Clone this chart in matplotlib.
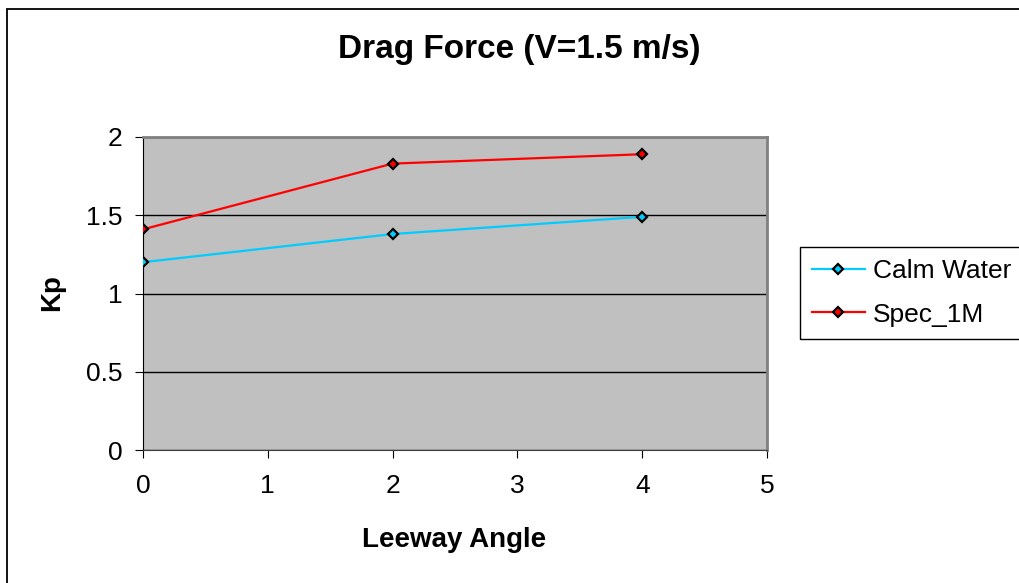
import matplotlib.pyplot as plt
import matplotlib.patches as patches

# dane
leeway = [0, 2, 4]
calm_water = [1.20, 1.38, 1.49]
spec_1m = [1.41, 1.83, 1.89]

plt.rcParams['font.family'] = ['Liberation Sans', 'DejaVu Sans']

W, H = 1020, 583
fig = plt.figure(figsize=(10.2, 5.83), dpi=100)
ax = fig.add_axes([143 / W, 1 - 450 / H, 624 / W, 313 / H])

# ramka wykresu (obcięta z prawej i z dołu)
fig.patches.append(patches.Rectangle((7.5 / W, -0.1), 1.2, 1 - 8.5 / H + 0.1,
                                     transform=fig.transFigure, fill=False,
                                     edgecolor='black', linewidth=1.3, clip_on=False))

ax.set_facecolor('#C0C0C0')
ax.plot(leeway, calm_water, color='#00CCFF', lw=1.6, marker='D', ms=5.5,
        mfc='#00CCFF', mec='black', mew=1.6, label='Calm Water', zorder=3)
ax.plot(leeway, spec_1m, color='#FF0000', lw=1.6, marker='D', ms=5.5,
        mfc='#FF0000', mec='black', mew=1.6, label='Spec_1M', zorder=3)

ax.set_xlim(0, 5)
ax.set_ylim(0, 2)
ax.set_xticks([0, 1, 2, 3, 4, 5])
ax.set_yticks([0, 0.5, 1, 1.5, 2])
ax.set_yticklabels(['0', '0.5', '1', '1.5', '2'])
ax.yaxis.grid(True, color='black', lw=1)
ax.set_axisbelow(True)

ax.spines['top'].set_color('#808080')
ax.spines['right'].set_color('#808080')
ax.spines['top'].set_linewidth(2)
ax.spines['right'].set_linewidth(2)
ax.spines['left'].set_color('black')
ax.spines['bottom'].set_color('#404040')
ax.tick_params(axis='both', labelsize=19, length=5.5, direction='out')
ax.tick_params(axis='x', pad=12)
ax.tick_params(axis='y', pad=9)

fig.text(454 / W, 1 - 547 / H, 'Leeway Angle', fontsize=20, fontweight='bold',
         ha='center', va='baseline')
fig.text(52 / W, 1 - 293 / H, 'Kp', fontsize=20, fontweight='bold',
         ha='center', va='center', rotation=90)
fig.text(519 / W, 1 - 58 / H, 'Drag Force (V=1.5 m/s)', fontsize=24,
         fontweight='bold', ha='center', va='baseline')

leg = ax.legend(loc='upper left', bbox_to_anchor=(800 / W, 1 - 247 / H),
                bbox_transform=fig.transFigure, fontsize=19, frameon=True,
                fancybox=False, edgecolor='black', framealpha=1,
                handlelength=2.0, handletextpad=0.3, borderpad=0.45,
                labelspacing=0.75, borderaxespad=0)
leg.get_frame().set_linewidth(1)

fig.savefig('out.png', dpi=100)
